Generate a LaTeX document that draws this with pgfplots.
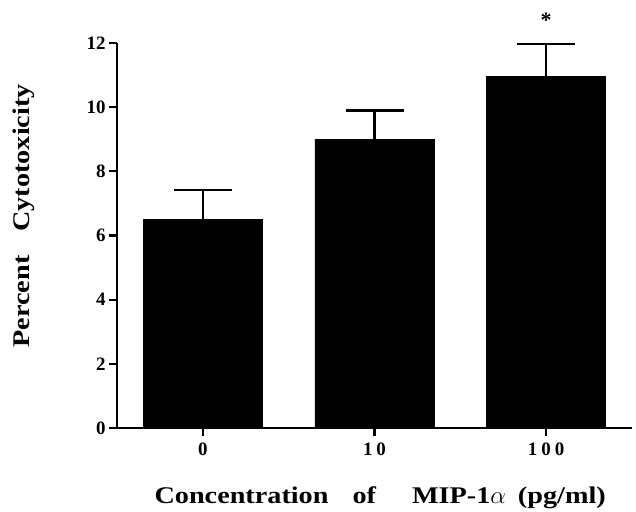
\documentclass[border=0pt]{standalone}
\usepackage{fontspec}
\setmainfont{Liberation Serif}
\newfontfamily\labelfont[FakeStretch=1.18]{Liberation Serif}
\usepackage{pgfplots}
\pgfplotsset{compat=1.18}
\begin{document}
\begin{tikzpicture}[x=1bp,y=1bp]
\useasboundingbox (-117bp,-84bp) rectangle (519bp,428bp);
\begin{axis}[
  at={(0,0)}, anchor=south west,
  scale only axis, width=515bp, height=385bp,
  xmin=-0.5, xmax=2.5, ymin=0, ymax=12,
  axis lines=left,
  axis line style={-, line width=2.4bp},
  ytick={0,2,...,12},
  xtick={0,1,2},
  xticklabels={0,1\hspace{4bp}0,1\hspace{4bp}0\hspace{4bp}0},
  tick align=outside,
  major tick length=8bp,
  tick style={line width=2.2bp, black},
  minor tick num=0,
  /pgf/number format/assume math mode=true,
  ticklabel style={font=\fontsize{19}{21}\selectfont\bfseries},
  yticklabel style={xshift=0bp},
  xticklabel style={yshift=-3bp},
  ylabel={Percent\hspace{24bp}Cytotoxicity},
  xlabel={Concentration\hspace{24bp}of\hspace{36bp}MIP-1$\alpha$\hspace{12bp}(pg/ml)},
  label style={font=\fontsize{24}{26}\selectfont\labelfont\bfseries},
  ylabel style={at={(axis description cs:-0.181,0.551)}, anchor=center},
  xlabel style={at={(axis description cs:0.511,-0.180)}, anchor=center},
  clip=false,
]
\addplot[ybar, bar width=119bp, fill=black, draw=black, bar shift=0pt,
  error bars/.cd, y dir=plus, y explicit,
  error bar style={line width=2.4bp, black},
  error mark options={line width=2.4bp, black, mark size=29bp, rotate=90}]
  coordinates {(0,6.5) +- (0,0.92) (1,9.0) +- (0,0.9) (2,10.97) +- (0,1.0)};
\node[font=\fontsize{22}{24}\selectfont\bfseries] at (axis cs:2,12.7) {*};
\end{axis}
\end{tikzpicture}
\end{document}
